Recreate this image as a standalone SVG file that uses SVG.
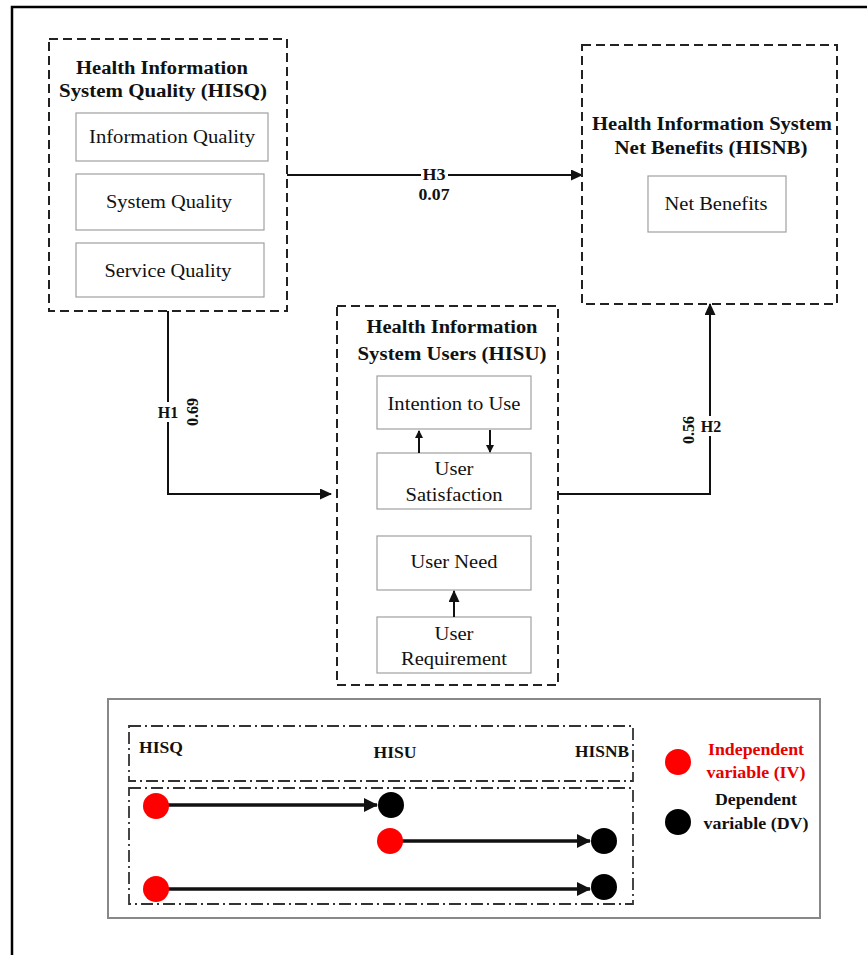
<svg xmlns="http://www.w3.org/2000/svg" width="867" height="955" viewBox="0 0 867 955">
<style>
.grp{fill:none;stroke:#222;stroke-width:2;stroke-dasharray:9,5}
.box{fill:#fff;stroke:#a0a0a0;stroke-width:1.2}
.t{font-family:"Liberation Serif","Times New Roman",serif;font-size:18px;fill:#111;text-anchor:middle}
.b{font-family:"Liberation Serif","Times New Roman",serif;font-size:18px;font-weight:bold;fill:#111;text-anchor:middle}
.lb{font-family:"Liberation Serif","Times New Roman",serif;font-size:16px;font-weight:bold;fill:#111;text-anchor:middle}
.lg{font-family:"Liberation Serif","Times New Roman",serif;font-size:17px;font-weight:bold;fill:#111;text-anchor:middle}
.red{fill:#e60000}
.ln{fill:none;stroke:#111;stroke-width:2}
.tk{fill:none;stroke:#111;stroke-width:3.5}
.dd{fill:none;stroke:#333;stroke-width:1.8;stroke-dasharray:12,4,2,4}
</style>
<defs>
<marker id="ah" markerWidth="12" markerHeight="11" refX="11" refY="5.5" orient="auto" markerUnits="userSpaceOnUse"><path d="M0,0 L12,5.5 L0,11 z" fill="#111"/></marker>
<marker id="as" markerWidth="8" markerHeight="8" refX="7" refY="4" orient="auto" markerUnits="userSpaceOnUse"><path d="M0,0 L8,4 L0,8 z" fill="#111"/></marker>
<marker id="ab" markerWidth="14" markerHeight="14" refX="13" refY="7" orient="auto" markerUnits="userSpaceOnUse"><path d="M0,0 L14,7 L0,14 z" fill="#111"/></marker>
</defs>
<rect width="867" height="955" fill="#fff"/>
<rect x="12" y="7" width="880" height="980" fill="none" stroke="#000" stroke-width="2.5"/>

<g id="connectors">
<path class="ln" d="M287,175 H582" marker-end="url(#ah)"/>
<path class="ln" d="M168,311 V494 H331" marker-end="url(#ah)"/>
<path class="ln" d="M558,494 H710 V304" marker-end="url(#ah)"/>
<rect x="421" y="164" width="27" height="16" fill="#fff"/>
<text class="lb" x="434" y="180" textLength="23" lengthAdjust="spacingAndGlyphs">H3</text>
<text class="lb" x="434" y="200" textLength="31" lengthAdjust="spacingAndGlyphs">0.07</text>
<rect x="157" y="402" width="22" height="20" fill="#fff"/>
<text class="lb" x="168" y="418">H1</text>
<text class="lb" transform="translate(198,412) rotate(-90)">0.69</text>
<rect x="699" y="416" width="24" height="20" fill="#fff"/>
<text class="lb" x="711" y="432">H2</text>
<text class="lb" transform="translate(694,430) rotate(-90)">0.56</text>
</g>

<g id="hisq">
<rect class="grp" x="49" y="39" width="238" height="272"/>
<text class="b" x="162" y="74" textLength="172" lengthAdjust="spacingAndGlyphs">Health Information</text>
<text class="b" x="163" y="97" textLength="208" lengthAdjust="spacingAndGlyphs">System Quality (HISQ)</text>
<rect class="box" x="76" y="113" width="192" height="48"/>
<text class="t" x="172" y="143" textLength="166" lengthAdjust="spacingAndGlyphs">Information Quality</text>
<rect class="box" x="76" y="174" width="188" height="56"/>
<text class="t" x="169" y="208" textLength="126" lengthAdjust="spacingAndGlyphs">System Quality</text>
<rect class="box" x="76" y="243" width="188" height="54"/>
<text class="t" x="168" y="277" textLength="127" lengthAdjust="spacingAndGlyphs">Service Quality</text>
</g>

<g id="hisnb">
<rect class="grp" x="582" y="45" width="255" height="259"/>
<text class="b" x="712" y="130" textLength="240" lengthAdjust="spacingAndGlyphs">Health Information System</text>
<text class="b" x="711" y="154" textLength="193" lengthAdjust="spacingAndGlyphs">Net Benefits (HISNB)</text>
<rect class="box" x="648" y="176" width="138" height="56"/>
<text class="t" x="716" y="210" textLength="103" lengthAdjust="spacingAndGlyphs">Net Benefits</text>
</g>

<g id="hisu">
<rect class="grp" x="337" y="306" width="221" height="379"/>
<text class="b" x="452" y="333" textLength="171" lengthAdjust="spacingAndGlyphs">Health Information</text>
<text class="b" x="452" y="360" textLength="189" lengthAdjust="spacingAndGlyphs">System Users (HISU)</text>
<rect class="box" x="377" y="376" width="154" height="53"/>
<text class="t" x="454" y="410" textLength="133" lengthAdjust="spacingAndGlyphs">Intention to Use</text>
<rect class="box" x="377" y="453" width="154" height="56"/>
<text class="t" x="454" y="475" textLength="39" lengthAdjust="spacingAndGlyphs">User</text>
<text class="t" x="454" y="501" textLength="97" lengthAdjust="spacingAndGlyphs">Satisfaction</text>
<rect class="box" x="377" y="536" width="154" height="54"/>
<text class="t" x="454" y="568" textLength="87" lengthAdjust="spacingAndGlyphs">User Need</text>
<rect class="box" x="377" y="617" width="154" height="56"/>
<text class="t" x="454" y="640" textLength="39" lengthAdjust="spacingAndGlyphs">User</text>
<text class="t" x="454" y="665" textLength="106" lengthAdjust="spacingAndGlyphs">Requirement</text>
<path class="ln" d="M419,453 V431" stroke-width="1.5" marker-end="url(#as)"/>
<path class="ln" d="M490,430 V452" stroke-width="1.5" marker-end="url(#as)"/>
<path class="ln" d="M454,617 V591" stroke-width="2.5" marker-end="url(#ah)"/>
</g>

<g id="legend">
<rect x="108" y="699" width="712" height="219" fill="#fff" stroke="#888" stroke-width="2"/>
<rect class="dd" x="129" y="726" width="504" height="55"/>
<rect class="dd" x="129" y="788" width="504" height="116"/>
<text class="lg" x="161" y="753" textLength="44" lengthAdjust="spacingAndGlyphs">HISQ</text>
<text class="lg" x="395" y="758" textLength="43" lengthAdjust="spacingAndGlyphs">HISU</text>
<text class="lg" x="602" y="757" textLength="54" lengthAdjust="spacingAndGlyphs">HISNB</text>
<path class="tk" d="M156,805 H377" marker-end="url(#ab)"/>
<path class="tk" d="M390,841 H590" marker-end="url(#ab)"/>
<path class="tk" d="M156,889 H590" marker-end="url(#ab)"/>
<circle cx="156" cy="806" r="13" fill="#f00"/>
<circle cx="391" cy="805" r="13" fill="#000"/>
<circle cx="390" cy="841" r="13" fill="#f00"/>
<circle cx="604" cy="841" r="13" fill="#000"/>
<circle cx="156" cy="889" r="13" fill="#f00"/>
<circle cx="604" cy="887" r="13" fill="#000"/>
<circle cx="678" cy="762" r="13" fill="#f00"/>
<circle cx="678" cy="822" r="13" fill="#000"/>
<text class="lg red" x="756" y="755" textLength="96" lengthAdjust="spacingAndGlyphs">Independent</text>
<text class="lg red" x="756" y="778" textLength="99" lengthAdjust="spacingAndGlyphs">variable (IV)</text>
<text class="lg" x="756" y="805" textLength="82" lengthAdjust="spacingAndGlyphs">Dependent</text>
<text class="lg" x="756" y="829" textLength="105" lengthAdjust="spacingAndGlyphs">variable (DV)</text>
</g>
</svg>
